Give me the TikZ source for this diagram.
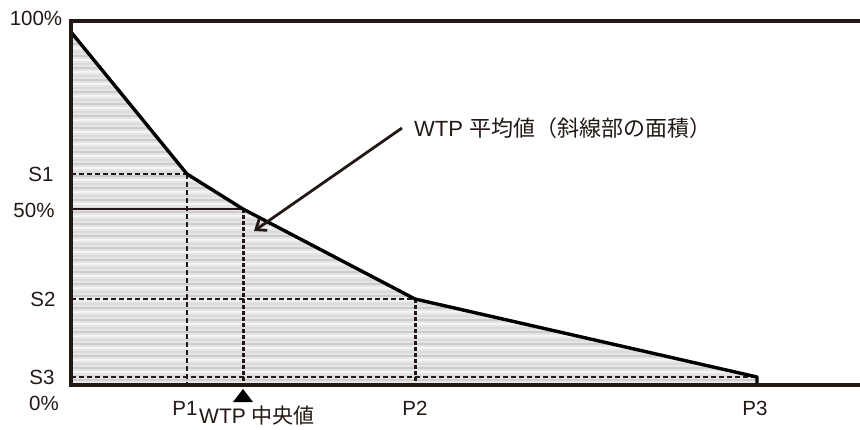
\documentclass[tikz,border=0pt]{standalone}
\usepackage{fontspec}
\setmainfont{Liberation Sans}
\newfontfamily\jp{Noto Sans CJK JP}
\usetikzlibrary{arrows.meta}
\definecolor{ink}{HTML}{231815}
\begin{document}
\begin{tikzpicture}[x=1pt,y=-1pt,
  lbl/.style={font=\fontsize{20.5}{20.5}\selectfont,text=ink,inner sep=0pt},
  wlbl/.style={font=\fontsize{22}{22}\selectfont,text=ink,inner sep=0pt},
  axisline/.style={draw=ink,line width=3.3pt},
  curveline/.style={draw=black,line width=3.4pt,line join=round},
  thindash/.style={draw=ink,line width=1.4pt,dash pattern=on 5pt off 3pt},
  thickdash/.style={draw=ink,line width=3pt,dash pattern=on 4pt off 2pt}]
\useasboundingbox (0,0) rectangle (860,429);
% points
\coordinate (A) at (71,32);
\coordinate (B) at (187,174);
\coordinate (C) at (243,209);
\coordinate (D) at (415,299);
\coordinate (E) at (757,377);
\coordinate (Eb) at (757,385);
\coordinate (O) at (71,385);
\coordinate (TL) at (71,21);
\coordinate (TR) at (860,21);
\coordinate (BR) at (860,385);
\coordinate (S1l) at (71,174);
\coordinate (M50) at (71,209);
\coordinate (S2l) at (71,299);
\coordinate (S3l) at (71,377);
\coordinate (Bb) at (187,385);
\coordinate (Cb) at (243,385);
\coordinate (Db) at (415,385);
% fill with stripes
\fill[gray!20] (A) -- (B) -- (C) -- (D) -- (E) -- (Eb) -- (O) -- cycle;
\begin{scope}
\clip (A) -- (B) -- (C) -- (D) -- (E) -- (Eb) -- (O) -- cycle;
\foreach \k in {0,...,90}{
  \pgfmathsetmacro{\yy}{32+\k*4}
  \pgfmathtruncatemacro{\m}{mod(\k,3)}
  \ifnum\m=0 \draw[gray!40,line width=1.4pt] (71,\yy) -- (860,\yy);
  \else\ifnum\m=1 \draw[gray!8,line width=1.4pt] (71,\yy) -- (860,\yy);
  \else \draw[gray!28,line width=1.2pt] (71,\yy) -- (860,\yy);\fi\fi
}
\end{scope}
% guide lines
\draw[thindash] (S1l) -- (B);
\draw[thindash] (B) -- (Bb);
\draw[draw=ink,line width=2.6pt] (M50) -- (C);
\draw[thickdash] (C) -- (Cb);
\draw[thindash] (S2l) -- (D);
\draw[thickdash] (D) -- (Db);
\draw[thindash] (S3l) -- (E);
% curve
\draw[curveline] (A) -- (B) -- (C) -- (D) -- (E) -- (Eb);
% axes
\draw[axisline] (TR) -- (TL) -- (O) -- (BR);
% labels
\node[lbl] (l100) at (36,18) {100\%};
\node[lbl] (ls1) at (41,174) {S1};
\node[lbl] (l50) at (34,210) {50\%};
\node[lbl] (ls2) at (43,299) {S2};
\node[lbl] (ls3) at (42,377) {S3};
\node[lbl] (l0) at (44,403) {0\%};
\node[lbl] (lp1) at (185,408) {P1};
\node[lbl] (lp2) at (415,408) {P2};
\node[lbl] (lp3) at (755,408) {P3};
\node[wlbl,font=\fontsize{21}{21}\selectfont,anchor=west] (med) at (199,416) {WTP {\jp 中央値}};
\fill[black] (243,389) -- (253,402) -- (233,402) -- cycle;
\node[wlbl,anchor=west] (mean) at (414,128) {WTP {\jp 平均値（斜線部の面積）}};
\coordinate (tip) at (254,231);
\draw[draw=ink,line width=2.8pt,-{Straight Barb[length=9pt,width=14pt]}] (mean.west) ++(-12,0) coordinate (as) -- (tip);
\end{tikzpicture}
\end{document}
